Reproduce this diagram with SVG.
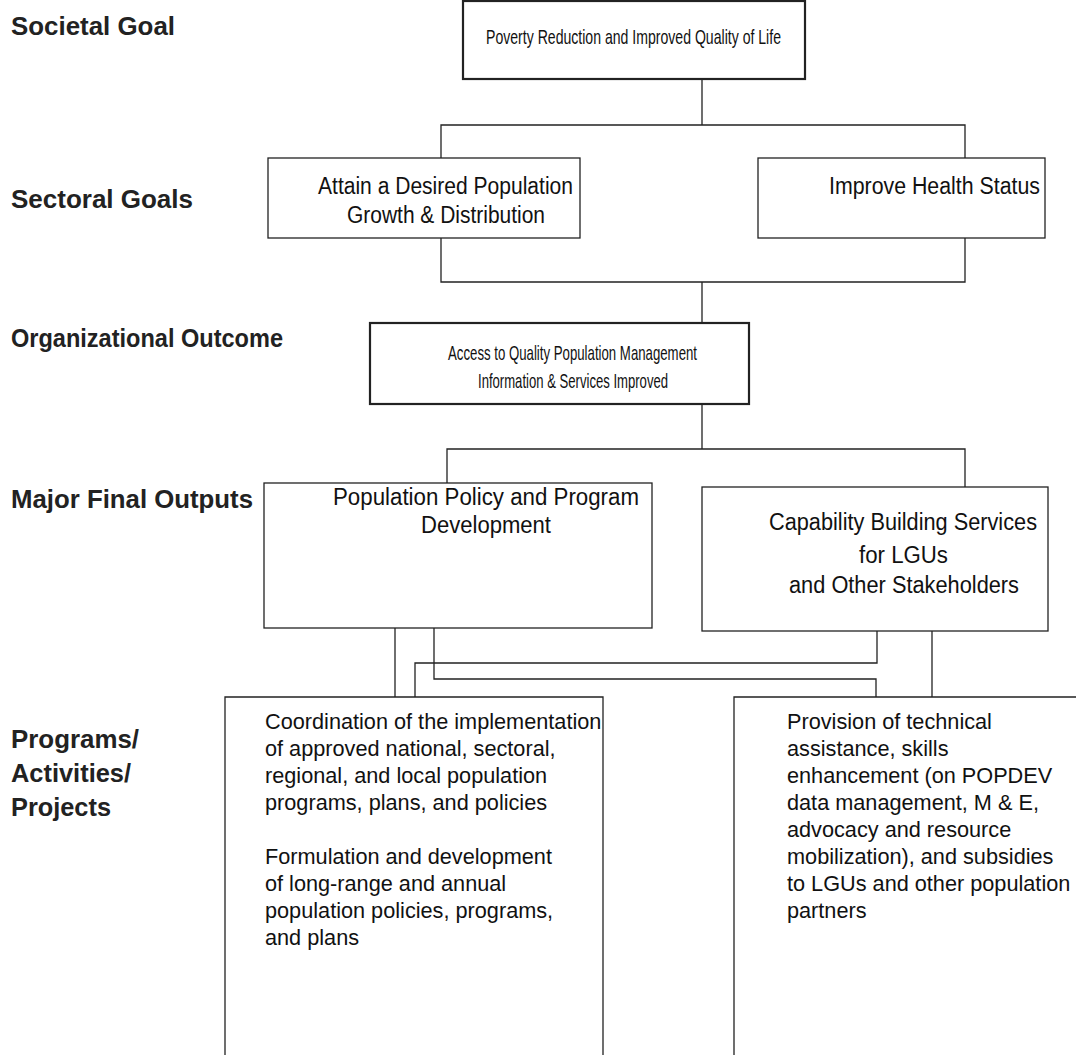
<svg xmlns="http://www.w3.org/2000/svg" width="1076" height="1055" viewBox="0 0 1076 1055">
<style>
.box{fill:#fff;stroke:#222;stroke-width:1.3}
.thick{stroke-width:2.2}
.ln{fill:none;stroke:#222;stroke-width:1.3}
.lab{font-family:"Liberation Sans",Arial,sans-serif;font-weight:bold;font-size:26px;fill:#222}
.t{font-family:"Liberation Sans",Arial,sans-serif;font-size:21px;fill:#111}
.m{font-family:"Liberation Sans",Arial,sans-serif;font-size:23px;fill:#111}
.p{font-family:"Liberation Sans",Arial,sans-serif;font-size:21.7px;fill:#111}
</style>
<rect width="1076" height="1055" fill="#fff"/>
<g id="labels">
<text class="lab" x="11" y="35" textLength="164" lengthAdjust="spacingAndGlyphs">Societal Goal</text>
<text class="lab" x="11" y="208" textLength="182" lengthAdjust="spacingAndGlyphs">Sectoral Goals</text>
<text class="lab" x="11" y="347" textLength="272" lengthAdjust="spacingAndGlyphs">Organizational Outcome</text>
<text class="lab" x="11" y="508" textLength="242" lengthAdjust="spacingAndGlyphs">Major Final Outputs</text>
<text class="lab" x="11" y="748" textLength="128" lengthAdjust="spacingAndGlyphs">Programs/</text>
<text class="lab" x="11" y="782" textLength="120" lengthAdjust="spacingAndGlyphs">Activities/</text>
<text class="lab" x="11" y="816" textLength="100" lengthAdjust="spacingAndGlyphs">Projects</text>
</g>
<g id="connectors">
<path class="ln" d="M702 79V125M441 158V125H965V158"/>
<path class="ln" d="M441 238V282H965V238M702 282V323"/>
<path class="ln" d="M702 404V449M447 483V449H965V487"/>
<path class="ln" d="M395 628V697"/>
<path class="ln" d="M434 628V679H876V697"/>
<path class="ln" d="M877 631V663H415V697"/>
<path class="ln" d="M932 628V697"/>
</g>
<g id="societal-goal">
<rect class="box thick" x="463" y="1" width="342" height="78"/>
<text class="t" x="486" y="44" textLength="295" lengthAdjust="spacingAndGlyphs">Poverty Reduction and Improved Quality of Life</text>
</g>
<g id="sectoral-population">
<rect class="box" x="268" y="158" width="312" height="80"/>
<text class="m" x="318" y="194" textLength="255" lengthAdjust="spacingAndGlyphs">Attain a Desired Population</text>
<text class="m" x="347" y="223" textLength="198" lengthAdjust="spacingAndGlyphs">Growth &amp; Distribution</text>
</g>
<g id="sectoral-health">
<rect class="box" x="758" y="158" width="287" height="80"/>
<text class="m" x="829" y="194" textLength="211" lengthAdjust="spacingAndGlyphs">Improve Health Status</text>
</g>
<g id="organizational-outcome">
<rect class="box thick" x="370" y="323" width="379" height="81"/>
<text class="t" x="448" y="360" textLength="249" lengthAdjust="spacingAndGlyphs">Access to Quality Population Management</text>
<text class="t" x="478" y="388" textLength="190" lengthAdjust="spacingAndGlyphs">Information &amp; Services Improved</text>
</g>
<g id="mfo-policy">
<rect class="box" x="264" y="483" width="388" height="145"/>
<text class="m" x="333" y="505" textLength="306" lengthAdjust="spacingAndGlyphs">Population Policy and  Program</text>
<text class="m" x="421" y="533" textLength="130" lengthAdjust="spacingAndGlyphs">Development</text>
</g>
<g id="mfo-capability">
<rect class="box" x="702" y="487" width="346" height="144"/>
<text class="m" x="769" y="530" textLength="268" lengthAdjust="spacingAndGlyphs">Capability Building Services</text>
<text class="m" x="859" y="563" textLength="89" lengthAdjust="spacingAndGlyphs">for LGUs</text>
<text class="m" x="789" y="593" textLength="230" lengthAdjust="spacingAndGlyphs">and Other Stakeholders</text>
</g>
<g id="pap-policy">
<path class="ln" d="M225 1055V697H603V1055"/>
<text class="p" x="265" y="729">Coordination of the implementation</text>
<text class="p" x="265" y="756">of approved national, sectoral,</text>
<text class="p" x="265" y="783">regional, and local population</text>
<text class="p" x="265" y="810">programs, plans, and policies</text>
<text class="p" x="265" y="864">Formulation and development</text>
<text class="p" x="265" y="891">of long-range and annual</text>
<text class="p" x="265" y="918">population policies, programs,</text>
<text class="p" x="265" y="945">and plans</text>
</g>
<g id="pap-capability">
<path class="ln" d="M734 1055V697H1076"/>
<text class="p" x="787" y="729">Provision of technical</text>
<text class="p" x="787" y="756">assistance, skills</text>
<text class="p" x="787" y="783">enhancement (on POPDEV</text>
<text class="p" x="787" y="810">data management, M &amp; E,</text>
<text class="p" x="787" y="837">advocacy and resource</text>
<text class="p" x="787" y="864">mobilization), and subsidies</text>
<text class="p" x="787" y="891">to LGUs and other population</text>
<text class="p" x="787" y="918">partners</text>
</g>
</svg>
